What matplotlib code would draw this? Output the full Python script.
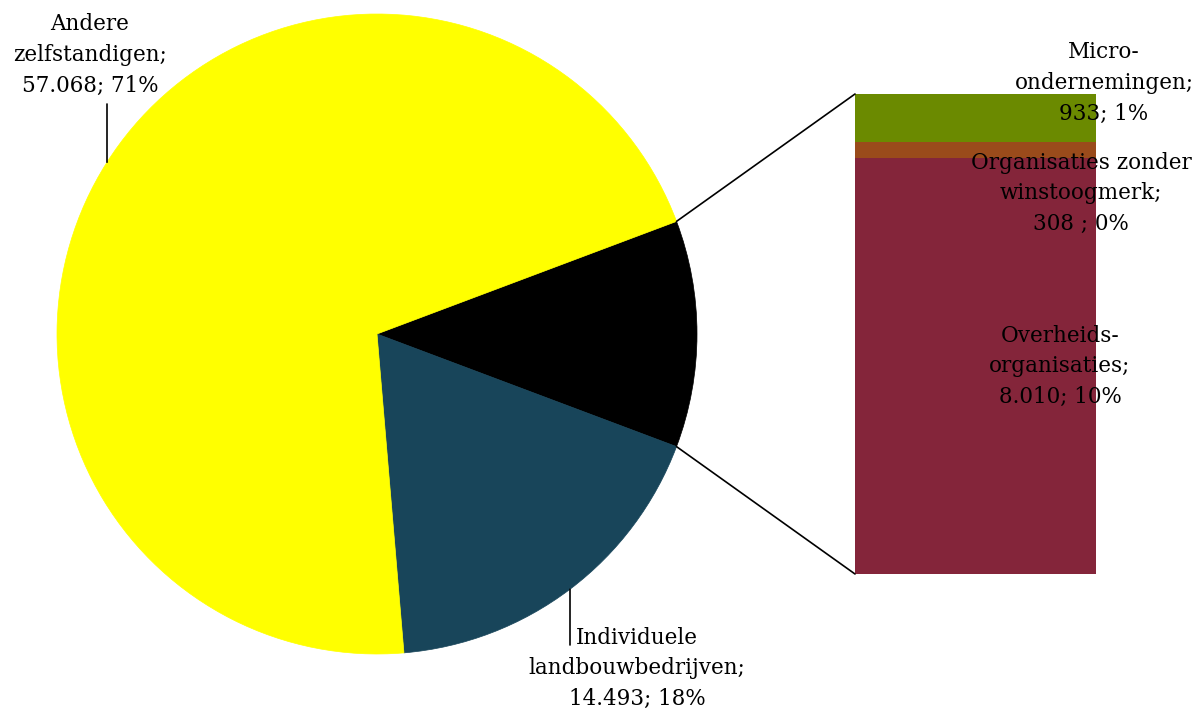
import matplotlib.pyplot as plt
from matplotlib.patches import ConnectionPatch
import numpy as np

# main pie
pie_labels = ['Overige', 'Individuele\nlandbouwbedrijven;\n14.493; 18%', 'Andere\nzelfstandigen;\n57.068; 71%']
pie_values = [9251, 14493, 57068]
pie_colors = ['#000000', '#18455A', '#FFFF00']

# breakdown of the black slice
bar_labels = ['Overheids-\norganisaties;\n8.010; 10%',
              'Organisaties zonder\nwinstoogmerk;\n308 ; 0%',
              'Micro-\nondernemingen;\n933; 1%']
bar_values = [8010, 308, 933]
bar_colors = ['#84253A', '#9A4B1B', '#6B8A00']

W, H = 1198, 711
fig = plt.figure(figsize=(W / 100, H / 100), dpi=100)
plt.rcParams['font.family'] = ['DejaVu Serif']
fs = 15.5

def px(x, y, w, h):
    return [x / W, 1 - (y + h) / H, w / W, h / H]

ax1 = fig.add_axes(px(57, 14, 640, 640))
total = sum(pie_values)
half = pie_values[0] / total * 180
wedges, _ = ax1.pie(pie_values, colors=pie_colors, startangle=half, counterclock=False,
                    radius=1, wedgeprops=dict(linewidth=0))
for w, c in zip(wedges, pie_colors):
    w.set_edgecolor(c)
    w.set_linewidth(0.5)
ax1.set_xlim(-1, 1)
ax1.set_ylim(-1, 1)
ax1.axis('off')

ax2 = fig.add_axes(px(855, 94, 241, 480))
bottom = 0
for v, c in zip(bar_values, bar_colors):
    ax2.bar(0, v, width=1, bottom=bottom, color=c, linewidth=0)
    bottom += v
btotal = sum(bar_values)
ax2.set_xlim(-0.5, 0.5)
ax2.set_ylim(0, btotal)
ax2.axis('off')

# connection lines
for ang, yb in [(half, btotal), (-half, 0)]:
    t = np.deg2rad(ang)
    con = ConnectionPatch(xyA=(np.cos(t), np.sin(t)), coordsA=ax1.transData,
                          xyB=(-0.5, yb), coordsB=ax2.transData, color='black', lw=1.2)
    fig.add_artist(con)

def ftxt(x, y, s):
    fig.text(x / W, 1 - y / H, s, ha='center', va='center', fontsize=fs, linespacing=1.5)

# pie labels with leader lines
def leader(xpix, yend):
    xd = (xpix - 377) / 320
    yd = np.sqrt(1 - xd ** 2)
    if yend > 334:
        yd = -yd
    ax1.annotate('', xy=(xd, yd), xycoords='data',
                 xytext=(xd, (334 - yend) / 320), textcoords='data',
                 arrowprops=dict(arrowstyle='-', color='black', lw=1.2, shrinkA=0, shrinkB=0),
                 annotation_clip=False)

ftxt(90, 55, pie_labels[2])
leader(107, 104)
ftxt(637, 668, pie_labels[1])
leader(570, 645)

ftxt(1060, 366, bar_labels[0])
ftxt(1081, 193, bar_labels[1])
ftxt(1104, 83, bar_labels[2])

fig.savefig('out.png', dpi=100)
